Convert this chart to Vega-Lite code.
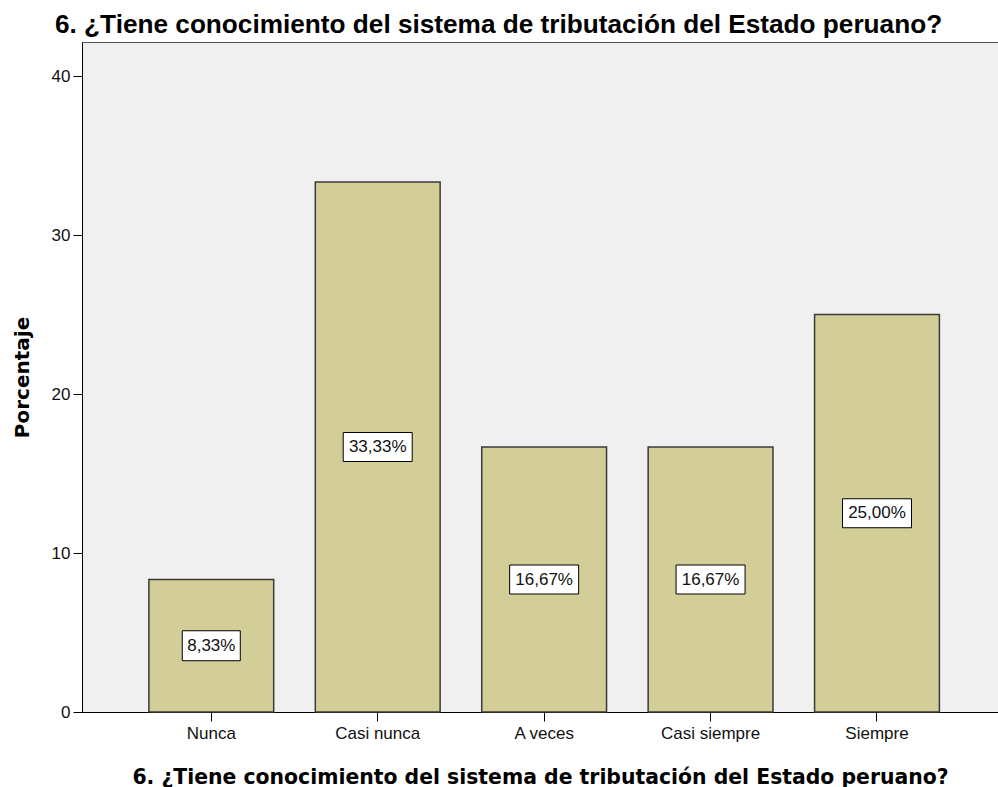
{
  "$schema": "https://vega.github.io/schema/vega-lite/v6.json",
  "width": 916,
  "height": 670,
  "autosize": {"type": "none"},
  "padding": {"left": 82, "top": 42, "right": 0, "bottom": 75},
  "background": "white",
  "title": {
    "text": "6. ¿Tiene conocimiento del sistema de tributación del Estado peruano?",
    "anchor": "start",
    "frame": "group",
    "dx": -27,
    "dy": 27,
    "offset": 10,
    "baseline": "alphabetic",
    "font": "Liberation Sans",
    "fontSize": 26.2,
    "fontWeight": "bold",
    "color": "#000000"
  },
  "data": {
    "values": [
      {"cat": "Nunca", "pct": 8.333},
      {"cat": "Casi nunca", "pct": 33.333},
      {"cat": "A veces", "pct": 16.667},
      {"cat": "Casi siempre", "pct": 16.667},
      {"cat": "Siempre", "pct": 25.0}
    ]
  },
  "transform": [
    {"calculate": "datum.pct / 2", "as": "mid"},
    {"calculate": "replace(format(datum.pct, '.2f'), '.', ',') + '%'", "as": "label"}
  ],
  "encoding": {
    "x": {
      "field": "cat",
      "type": "nominal",
      "sort": null,
      "scale": {"paddingInner": 0.25, "paddingOuter": 0.377, "align": 0.533},
      "axis": {"title": "6. ¿Tiene conocimiento del sistema de tributación del Estado peruano?"}
    }
  },
  "layer": [
    {
      "mark": {"type": "bar", "fill": "#D3CE98", "stroke": "#3a3a3a", "strokeWidth": 1.5},
      "encoding": {
        "y": {
          "field": "pct",
          "type": "quantitative",
          "title": "Porcentaje",
          "scale": {"domain": [0, 42.14], "nice": false, "zero": true},
          "axis": {"values": [0, 10, 20, 30, 40]}
        }
      }
    },
    {
      "mark": {"type": "point", "filled": true, "fill": "white", "stroke": "black", "strokeWidth": 1, "opacity": 1},
      "encoding": {
        "y": {"field": "mid", "type": "quantitative", "title": "Porcentaje", "scale": {"domain": [0, 42.14], "nice": false, "zero": true}},
        "shape": {"condition": {"test": "datum.pct < 10", "value": "M-1,-0.517H1V0.517H-1Z"}, "value": "M-1,-0.42H1V0.42H-1Z"},
        "size": {"condition": {"test": "datum.pct < 10", "value": 3364}, "value": 4761}
      }
    },
    {
      "mark": {"type": "text", "font": "Liberation Sans", "fontSize": 17, "color": "#111111", "baseline": "middle"},
      "encoding": {
        "y": {"field": "mid", "type": "quantitative", "title": "Porcentaje", "scale": {"domain": [0, 42.14], "nice": false, "zero": true}},
        "text": {"field": "label", "type": "nominal"}
      }
    }
  ],
  "config": {
    "view": {"fill": "#F0F0F0", "stroke": "#555555", "strokeWidth": 1},
    "axisY": {
      "grid": false,
      "domainColor": "#000000",
      "tickColor": "#000000",
      "tickSize": 9,
      "labelPadding": 3,
      "labelFont": "Liberation Sans",
      "labelFontSize": 17,
      "labelColor": "#111111",
      "titleFont": "DejaVu Sans",
      "titleFontSize": 20,
      "titleFontWeight": "bold",
      "titleColor": "#000000",
      "titleX": -54,
      "titleY": 335,
      "titleAngle": -90,
      "titleAlign": "center",
      "titleBaseline": "alphabetic"
    },
    "axisX": {
      "grid": false,
      "domainColor": "#000000",
      "tickColor": "#000000",
      "tickSize": 9,
      "labelPadding": 4,
      "labelAngle": 0,
      "labelFont": "Liberation Sans",
      "labelFontSize": 17,
      "labelColor": "#111111",
      "titleFont": "DejaVu Sans",
      "titleFontSize": 20.4,
      "titleFontWeight": "bold",
      "titleColor": "#000000",
      "titleX": 458,
      "titleY": 71,
      "titleAlign": "center",
      "titleBaseline": "alphabetic"
    }
  }
}
